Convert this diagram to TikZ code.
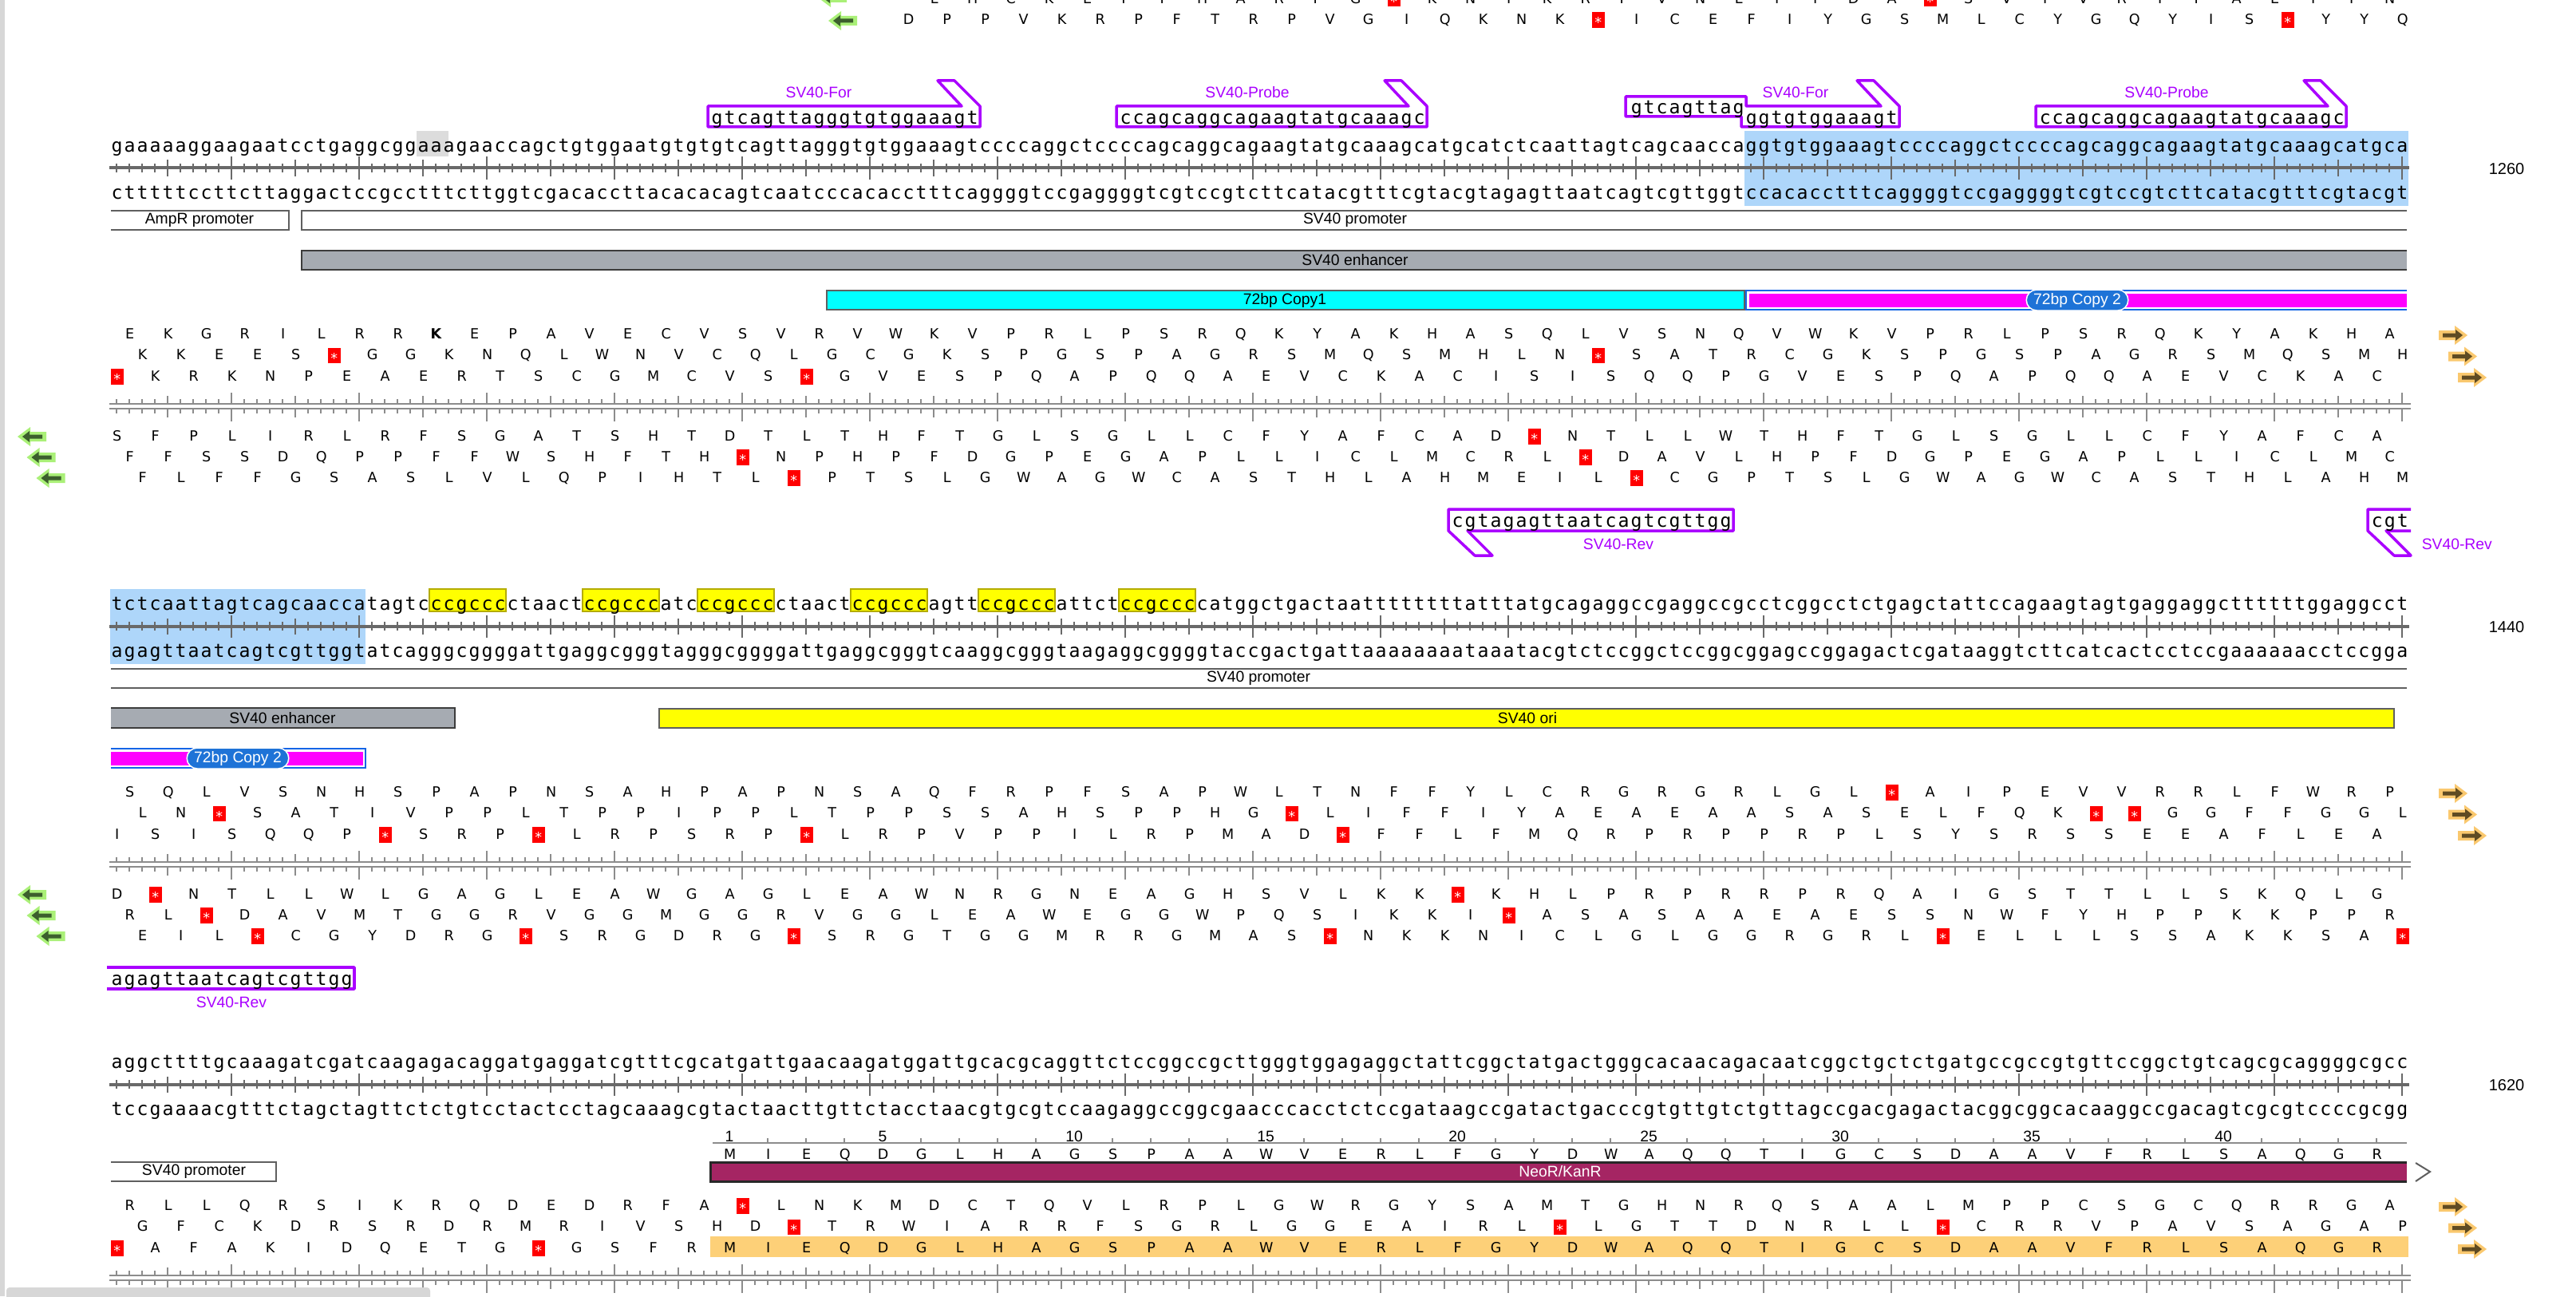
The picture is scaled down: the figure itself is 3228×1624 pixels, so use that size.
\documentclass[tikz,border=0pt]{standalone}
\usepackage{fontspec}
\setmainfont{Liberation Sans}
\newfontfamily\dnafont{DejaVu Sans Mono}
\newfontfamily\aafont{DejaVu Sans}
\definecolor{primerpurple}{RGB}{170,0,255}
\definecolor{hlblue}{RGB}{174,214,250}
\definecolor{hlgray}{RGB}{220,220,220}
\definecolor{boxyellow}{RGB}{255,255,0}
\definecolor{boxolive}{RGB}{180,172,0}
\definecolor{rulergray}{RGB}{105,105,105}
\definecolor{aagray}{RGB}{140,140,140}
\definecolor{featline}{RGB}{95,95,95}
\definecolor{enhgray}{RGB}{166,171,178}
\definecolor{enhline}{RGB}{60,60,60}
\definecolor{copycyan}{RGB}{0,255,255}
\definecolor{copymag}{RGB}{255,0,255}
\definecolor{copyblue}{RGB}{20,100,230}
\definecolor{pillblue}{RGB}{30,115,215}
\definecolor{neorred}{RGB}{165,37,99}
\definecolor{neorline}{RGB}{40,40,40}
\definecolor{neorhl}{RGB}{253,208,120}
\definecolor{stopred}{RGB}{255,0,0}
\definecolor{fwdlight}{RGB}{250,200,110}
\definecolor{fwddark}{RGB}{95,75,35}
\definecolor{revlight}{RGB}{170,240,120}
\definecolor{revdark}{RGB}{60,95,45}
\definecolor{edgegray}{RGB}{215,215,215}

\newcommand{\bases}[1]{\dnaspread#1\relax}
\def\dnaspread#1{\ifx#1\relax\else\makebox[1.6mm]{#1}\expandafter\dnaspread\fi}
\def\aaspread#1{\ifx#1\relax\else\makebox[4.8mm]{\aaglyph#1}\expandafter\aaspread\fi}
\def\aaglyph#1{\if#1*\stopbox\else\if#1k\textbf{K}\else#1\fi\fi}
\newcommand{\stopbox}{{\setlength{\fboxsep}{0pt}\colorbox{stopred}{\rule[-0.27mm]{0pt}{1.8mm}\makebox[1.6mm]{\color{white}\raisebox{-0.42mm}{*}}}}}
\newcommand{\aarow}[4]{\node[aa] (#1) at (#2-24,#3+6.3) {\aaspread#4\relax};}
\newcommand{\dnaruler}[1]{%
  \draw[rulerline] (137,#1) -- (3019,#1);
  \foreach \i in {1,...,180}{%
    \pgfmathsetmacro\ticklen{mod(\i,10)==0 ? 14 : (mod(\i,5)==0 ? 10 : 5.5)}%
    \draw[rulertick] (130+16*\i,#1-\ticklen) -- (130+16*\i,#1+\ticklen);}}
\newcommand{\aaruler}[1]{%
  \draw[aaline] (137,#1) -- (3021,#1) (137,#1+6) -- (3021,#1+6);
  \foreach \i in {1,...,180}{%
    \pgfmathsetmacro\tickup{mod(\i,10)==0 ? 14 : (mod(\i,5)==0 ? 10 : 6)}%
    \pgfmathsetmacro\tickdn{mod(\i,10)==0 ? 16 : (mod(\i,5)==0 ? 11 : 6)}%
    \draw[aatick] (130+16*\i,#1) -- (130+16*\i,#1-\tickup) (130+16*\i,#1+6) -- (130+16*\i,#1+6+\tickdn);}}
\newcommand{\fwdprimer}[5]{%
  \pgfmathsetmacro\primL{130+16*#2-11}%
  \pgfmathsetmacro\primR{130+16*#3+10}%
  \draw[primerline] (\primL,#4) -- (\primR-23,#4) -- (\primR-53,#4-32) -- (\primR-32,#4-32) -- (\primR,#4) -- (\primR,#4+26) -- (\primL,#4+26) -- cycle;
  \node[dna] (#1) at (\primL+3,#4+13) {\bases{#5}};}

\begin{document}
\begin{tikzpicture}[x=0.1mm, y=-0.1mm,
  dna/.style={font=\dnafont\fontsize{6.6pt}{8pt}\selectfont, inner sep=0pt, anchor=mid west},
  aa/.style={font=\aafont\fontsize{5pt}{6pt}\selectfont, inner sep=0pt, anchor=base west},
  feat/.style={font=\fontsize{5.5pt}{6.5pt}\selectfont, inner sep=0pt},
  plabel/.style={feat, text=primerpurple},
  posnum/.style={font=\fontsize{5.7pt}{7pt}\selectfont, inner sep=0pt},
  pill/.style={feat, fill=pillblue, draw=white, line width=0.15mm, text=white, rounded corners=1.3mm, minimum height=2.6mm, inner xsep=0.9mm},
  primerline/.style={draw=primerpurple, line width=0.35mm, line join=round, fill=white},
  ybox/.style={draw=boxolive, line width=0.2mm, fill=boxyellow},
  rulerline/.style={draw=rulergray, line width=0.4mm},
  rulertick/.style={draw=rulergray, line width=0.25mm},
  aaline/.style={draw=aagray, line width=0.2mm},
  aatick/.style={draw=aagray, line width=0.25mm},
  featbox/.style={draw=featline, line width=0.24mm},
  fwdicon/.pic={\fill[fwdlight] (-18,-6) -- (2,-6) -- (2,-12) -- (18,0) -- (2,12) -- (2,6) -- (-18,6) -- cycle;
    \fill[fwddark] (-13,-2.5) -- (3,-2.5) -- (3,-7) -- (12,0) -- (3,7) -- (3,2.5) -- (-13,2.5) -- cycle;},
  revicon/.pic={\fill[revlight] (18,-6) -- (-2,-6) -- (-2,-12) -- (-18,0) -- (-2,12) -- (-2,6) -- (18,6) -- cycle;
    \fill[revdark] (13,-2.5) -- (-3,-2.5) -- (-3,-7) -- (-12,0) -- (-3,7) -- (-3,2.5) -- (13,2.5) -- cycle;}
]
\useasboundingbox (0,0) rectangle (3228,1624);
\clip (0,0) rectangle (3228,1624);
\fill[white] (0,0) rectangle (3228,1624);
\fill[edgegray] (0,0) rectangle (6,1624);

% end of the previous line
\aarow{aP5}{1170}{-2}{LHCKEPFHAR FG*KNIKRFV NLYTDA*SVI VRIFAEIIN}
\aarow{aP6}{1138}{24.5}{DPPVKRPFTR PVGIQKNK*I CEFIYGSMLC YGQYIS*YYQ}
\pic (rvP5) at (1043,-3) {revicon};
\pic (rvP6) at (1056,26) {revicon};

% line 1081-1260
\fill[hlgray] (522,164) rectangle (562,196);
\fill[hlblue] (2186,164) rectangle (3018,258);
\fwdprimer{forA}{48}{68}{133}{gtcagttagggtgtggaaagt}
\fwdprimer{probeA}{80}{103}{133}{ccagcaggcagaagtatgcaaagc}
\fwdprimer{probeB}{152}{175}{133}{ccagcaggcagaagtatgcaaagc}
\draw[primerline] (2037,121) -- (2188,121) -- (2188,133) -- (2357,133) -- (2327,101) -- (2348,101) -- (2380,133) -- (2380,159) -- (2182,159) -- (2182,146) -- (2037,146) -- cycle;
\node[dna] (forBup) at (2042,133.5) {\bases{gtcagttag}};
\node[dna] (forB) at (2186,146) {\bases{ggtgtggaaagt}};
\node[plabel] (forAlab) at (1026,116) {SV40-For};
\node[plabel] (probeAlab) at (1563,116) {SV40-Probe};
\node[plabel] (forBlab) at (2250,116) {SV40-For};
\node[plabel] (probeBlab) at (2715,116) {SV40-Probe};
\node[dna] (seqAtop) at (138,181) {\bases{gaaaaaggaa gaatcctgag gcggaaagaa ccagctgtgg aatgtgtgtc agttagggtg tggaaagtcc ccaggctccc cagcaggcag aagtatgcaa agcatgcatc tcaattagtc agcaaccagg tgtggaaagt ccccaggctc cccagcaggc agaagtatgc aaagcatgca}};
\node[dna] (seqAbot) at (138,240.5) {\bases{ctttttcctt cttaggactc cgcctttctt ggtcgacacc ttacacacag tcaatcccac acctttcagg ggtccgaggg gtcgtccgtc ttcatacgtt tcgtacgtag agttaatcag tcgttggtcc acacctttca ggggtccgag gggtcgtccg tcttcatacg tttcgtacgt}};
\dnaruler{210.5}
\node[posnum] (posA) at (3141,212) {1260};
\draw[featbox] (139,264) -- (362,264) -- (362,288) -- (139,288);
\node[feat] (amprA) at (250,276) {AmpR promoter};
\draw[featbox] (3016,264) -- (378,264) -- (378,288) -- (3016,288);
\node[feat] (promA) at (1698,276) {SV40 promoter};
\fill[enhgray] (378,314) rectangle (3016,338);
\draw[draw=enhline, line width=0.26mm] (3016,314) -- (378,314) -- (378,338) -- (3016,338);
\node[feat] (enhA) at (1698,326) {SV40 enhancer};
\draw[featbox, fill=copycyan] (1036,364) rectangle (2186,388);
\node[feat] (copyA) at (1610,376) {72bp Copy1};
\fill[copymag] (2192,367.5) rectangle (3016,384.5);
\draw[draw=copyblue, line width=0.22mm] (3016,364) -- (2188,364) -- (2188,388) -- (3016,388);
\node[pill] (copyB) at (2603,376) {72bp Copy 2};
\aarow{aA1}{162}{418}{EKGRILRRkE PAVECVSVRV WKVPRLPSRQ KYAKHASQLV SNQVWKVPRL PSRQKYAKHA}
\aarow{aA2}{178}{444.5}{KKEES*GGKN QLWNVCQLGC GKSPGSPAGR SMQSMHLN*S ATRCGKSPGS PAGRSMQSMH}
\aarow{aA3}{146}{471}{*KRKNPEAER TSCGMCVS*G VESPQAPQQA EVCKACISIS QQPGVESPQA PQQAEVCKAC}
\aaruler{506}
\aarow{aA4}{146}{546}{SFPLIRLRFS GATSHTDTLT HFTGLSGLLC FYAFCAD*NT LLWTHFTGLS GLLCFYAFCA}
\aarow{aA5}{162}{572}{FFSSDQPPFF WSHFTH*NPH PFDGPEGAPL LICLMCRL*D AVLHPFDGPE GAPLLICLMC}
\aarow{aA6}{178}{598}{FLFFGSASLV LQPIHTL*PT SLGWAGWCAS THLAHMEIL* CGPTSLGWAG WCASTHLAHM}
\pic (fwA1) at (3074,420) {fwdicon};
\pic (fwA2) at (3086,446.5) {fwdicon};
\pic (fwA3) at (3098,473) {fwdicon};
\pic (rvA4) at (40,547) {revicon};
\pic (rvA5) at (51.5,573) {revicon};
\pic (rvA6) at (63.5,599) {revicon};
\draw[primerline] (1815,638) -- (2172,638) -- (2172,665) -- (1839,665) -- (1870,696) -- (1848,696) -- (1815,665) -- cycle;
\node[dna] (revA) at (1818,651.5) {\bases{cgtagagttaatcagtcgttgg}};
\node[plabel] (revAlab) at (2028,682) {SV40-Rev};
\draw[primerline, fill=none] (3021,638) -- (2967,638) -- (2967,665) -- (3000,696) -- (3021,696) -- (2990,665) -- (3021,665);
\node[dna] (revB) at (2970,651.5) {\bases{cgt}};
\node[plabel, anchor=west] (revBlab) at (3034,682) {SV40-Rev};

% line 1261-1440
\fill[hlblue] (138,738) rectangle (458,832);
\foreach \s/\e in {26/31,38/43,47/52,59/64,69/74,80/85}
  \draw[ybox] (122+16*\s,738) rectangle (138+16*\e,766);
\node[dna] (seqBtop) at (138,755) {\bases{tctcaattag tcagcaacca tagtcccgcc cctaactccg cccatcccgc ccctaactcc gcccagttcc gcccattctc cgccccatgg ctgactaatt ttttttattt atgcagaggc cgaggccgcc tcggcctctg agctattcca gaagtagtga ggaggctttt ttggaggcct}};
\node[dna] (seqBbot) at (138,814.5) {\bases{agagttaatc agtcgttggt atcagggcgg ggattgaggc gggtagggcg gggattgagg cgggtcaagg cgggtaagag gcggggtacc gactgattaa aaaaaataaa tacgtctccg gctccggcgg agccggagac tcgataaggt cttcatcact cctccgaaaa aacctccgga}};
\dnaruler{784.5}
\node[posnum] (posB) at (3141,786) {1440};
\draw[featbox] (139,838) -- (3016,838) (139,862) -- (3016,862);
\node[feat] (promB) at (1577,850) {SV40 promoter};
\fill[enhgray] (139,887) rectangle (570,912);
\draw[draw=enhline, line width=0.26mm] (139,887) -- (570,887) -- (570,912) -- (139,912);
\node[feat] (enhB) at (354,899.5) {SV40 enhancer};
\draw[featbox, fill=boxyellow] (826,888) rectangle (3000,912);
\node[feat] (oriB) at (1914,900) {SV40 ori};
\fill[copymag] (139,941.5) rectangle (454.5,958.5);
\draw[draw=copyblue, line width=0.22mm] (139,938) -- (458,938) -- (458,962) -- (139,962);
\node[pill] (copyC) at (298,950) {72bp Copy 2};
\aarow{aB1}{162}{992}{SQLVSNHSPA PNSAHPAPNS AQFRPFSAPW LTNFFYLCRG RGRLGL*AIP EVVRRLFWRP}
\aarow{aB2}{178}{1018.5}{LN*SATIVPP LTPPIPPLTP PSSAHSPPHG *LIFFIYAEA EAASASELFQ K**GGFFGGL}
\aarow{aB3}{146}{1045}{ISISQQP*SR P*LRPSRP*L RPVPPILRPM AD*FFLFMQR PRPPRPLSYS RSSEEAFLEA}
\aaruler{1080}
\aarow{aB4}{146}{1120}{D*NTLLWLGA GLEAWGAGLE AWNRGNEAGH SVLKK*KHLP RPRRPRQAIG STTLLSKQLG}
\aarow{aB5}{162}{1146}{RL*DAVMTGG RVGGMGGRVG GLEAWEGGWP QSIKKI*ASA SAAEAESSNW FYHPPKKPPR}
\aarow{aB6}{178}{1172}{EIL*CGYDRG *SRGDRG*SR GTGGMRRGMA S*NKKNICLG LGGRGRL*EL LLSSAKKSA*}
\pic (fwB1) at (3074,994) {fwdicon};
\pic (fwB2) at (3086,1020.5) {fwdicon};
\pic (fwB3) at (3098,1047) {fwdicon};
\pic (rvB4) at (40,1121) {revicon};
\pic (rvB5) at (51.5,1147) {revicon};
\pic (rvB6) at (63.5,1173) {revicon};
\draw[primerline, fill=none] (134,1212) -- (444,1212) -- (444,1239) -- (134,1239);
\node[dna] (revC) at (138,1225.5) {\bases{agagttaatcagtcgttgg}};
\node[plabel] (revClab) at (290,1256) {SV40-Rev};

% line 1441-1620
\node[dna] (seqCtop) at (138,1329) {\bases{aggcttttgc aaagatcgat caagagacag gatgaggatc gtttcgcatg attgaacaag atggattgca cgcaggttct ccggccgctt gggtggagag gctattcggc tatgactggg cacaacagac aatcggctgc tctgatgccg ccgtgttccg gctgtcagcg caggggcgcc}};
\node[dna] (seqCbot) at (138,1388.5) {\bases{tccgaaaacg tttctagcta gttctctgtc ctactcctag caaagcgtac taacttgttc tacctaacgt gcgtccaaga ggccggcgaa cccacctctc cgataagccg atactgaccc gtgttgtctg ttagccgacg agactacggc ggcacaaggc cgacagtcgc gtccccgcgg}};
\dnaruler{1358.5}
\node[posnum] (posC) at (3141,1360) {1620};
\draw[aaline] (893,1432) -- (3016,1432);
\foreach \n in {1,...,44}{%
  \pgfmathtruncatemacro\notnum{(\n==1 || mod(\n,5)==0) ? 0 : 1}%
  \ifnum\notnum=1 \draw[aatick] (866+48*\n,1432) -- (866+48*\n,1426); \fi}
\foreach \n in {1,5,10,...,40}
  \node[feat, anchor=base] (neoN\n) at (866+48*\n,1430) {\n};
\aarow{neoA}{914}{1446}{MIEQDGLHAG SPAAWVERLF GYDWAQQTIG CSDAAVFRLS AQGR}
\fill[neorred] (890,1456) rectangle (3016,1480);
\draw[draw=neorline, line width=0.3mm] (3016,1456) -- (890,1456) -- (890,1480) -- (3016,1480);
\node[feat, text=white] (neoC) at (1955,1468) {NeoR/KanR};
\draw[draw=featline, line width=0.2mm] (3027,1457) -- (3045,1468) -- (3027,1480);
\draw[featbox] (139,1456) -- (346,1456) -- (346,1480) -- (139,1480);
\node[feat] (promC) at (243,1468) {SV40 promoter};
\fill[neorhl] (890,1549) rectangle (3018,1575);
\aarow{aC1}{162}{1510}{RLLQRSIKRQ DEDRFA*LNK MDCTQVLRPL GWRGYSAMTG HNRQSAALMP PCSGCQRRGA}
\aarow{aC2}{178}{1536.5}{GFCKDRSRDR MRIVSHD*TR WIARRFSGRL GGEAIRL*LG TTDNRLL*CR RVPAVSAGAP}
\aarow{aC3}{146}{1563}{*AFAKIDQET G*GSFRMIEQ DGLHAGSPAA WVERLFGYDW AQQTIGCSDA AVFRLSAQGR}
\aaruler{1598}
\pic (fwC1) at (3074,1512) {fwdicon};
\pic (fwC2) at (3086,1538.5) {fwdicon};
\pic (fwC3) at (3098,1565) {fwdicon};
\fill[edgegray, rounded corners=0.4mm] (8,1613) rectangle (539,1632);
\end{tikzpicture}
\end{document}
